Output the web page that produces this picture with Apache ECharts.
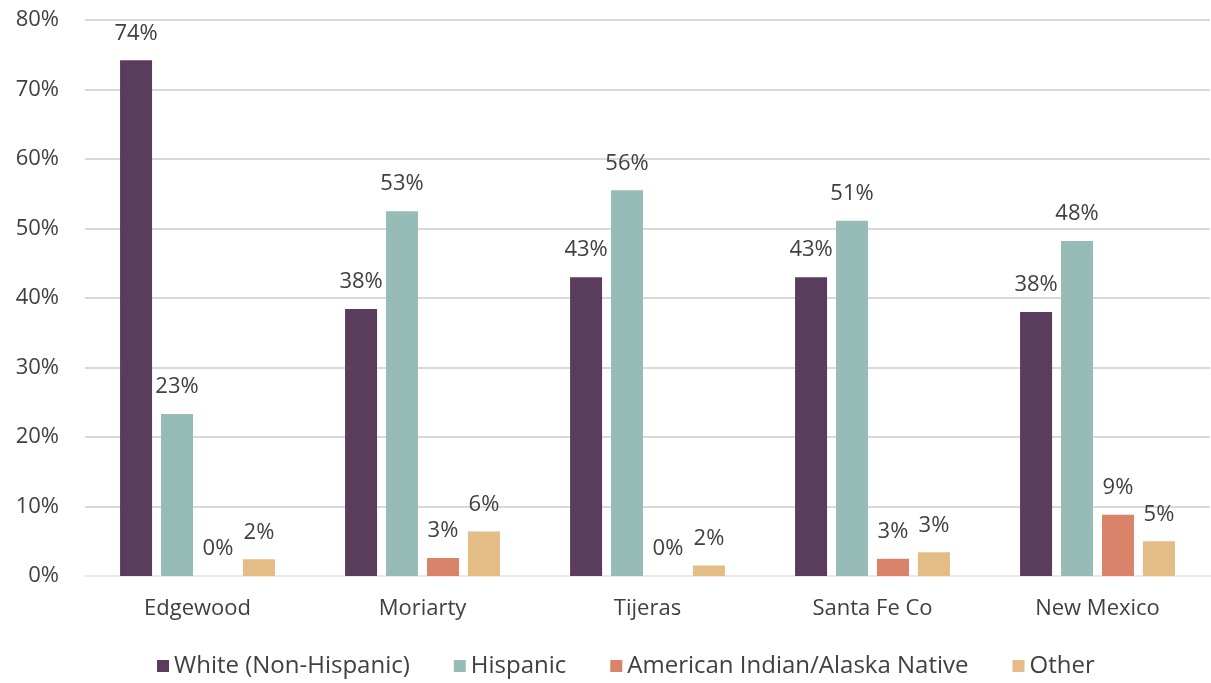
<!DOCTYPE html>
<html><head><meta charset="utf-8">
<script src="https://cdn.jsdelivr.net/npm/echarts@6/dist/echarts.min.js"></script>
<style>html,body{margin:0;padding:0;background:#fff}#c{width:1211px;height:683px}</style>
</head><body><div id="c"></div>
<script>
const categories = ['Edgewood','Moriarty','Tijeras','Santa Fe Co','New Mexico'];
const white = [74.2, 38.4, 43.0, 43.0, 38.0];
const hispanic = [23.3, 52.5, 55.5, 51.1, 48.2];
const aian = [0, 2.6, 0, 2.5, 8.8];
const other = [2.4, 6.4, 1.5, 3.4, 5.0];
const yTicks = [0,10,20,30,40,50,60,70,80];

const font = 'Open Sans';
const txt = '#404040';
const fs = 22;
function s(name, data, color){
  return {name, type:'bar', data, itemStyle:{color},
    barWidth:32,
    label:{show:true, position:'top', distance:16, formatter:p=>Math.round(p.value)+'%',
      color:txt, fontFamily:font, fontSize:fs}};
}
const chart = echarts.init(document.getElementById('c'));
chart.setOption({
  animation:false,
  grid:{left:85, right:1, top:20, bottom:107, containLabel:false},
  legend:{bottom:0, left:152, itemWidth:12, itemHeight:12, itemGap:44,
    icon:'rect', textStyle:{color:txt, fontFamily:font, fontSize:24}},
  xAxis:{type:'category', data:categories,
    axisLine:{lineStyle:{color:'#f3e6dc', width:2}}, axisTick:{show:false},
    axisLabel:{color:txt, fontFamily:font, fontSize:fs, margin:22}},
  yAxis:{type:'value', min:0, max:80, interval:10,
    axisLabel:{color:txt, fontFamily:font, fontSize:fs, margin:26, formatter:v=>v+'%'},
    splitLine:{lineStyle:{color:'#d9d9d9', width:2}}},
  series:[
    Object.assign(s('White (Non-Hispanic)', white, '#5a3d5c'),{barGap:'28%'}),
    s('Hispanic', hispanic, '#97bcb8'),
    s('American Indian/Alaska Native', aian, '#d9836b'),
    s('Other', other, '#e3bc86')
  ]
});
</script></body></html>
